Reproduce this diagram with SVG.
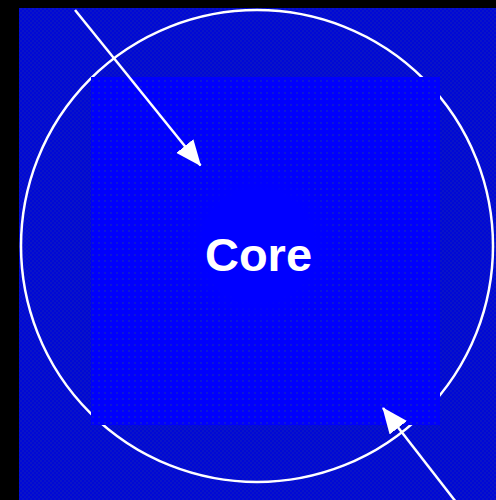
<svg xmlns="http://www.w3.org/2000/svg" width="496" height="500" viewBox="0 0 496 500">
<defs>
<style>
.conn{stroke:#fff;stroke-width:2.5;fill:none}
.ring{stroke:#fff;stroke-width:2.5;fill:none}
.lbl{font-family:"Liberation Sans",Arial,sans-serif;font-weight:bold;font-size:47px;fill:#fff}
</style>
<pattern id="dots" width="6" height="6" patternUnits="userSpaceOnUse">
<rect width="6" height="6" fill="#0000fc"/>
<circle cx="3" cy="3" r="1" fill="#1020c8"/>
</pattern>
<pattern id="dith" width="4" height="4" patternUnits="userSpaceOnUse">
<rect width="4" height="4" fill="#0008d6"/>
<rect width="2" height="2" fill="#0a14c8"/>
<rect x="2" y="2" width="2" height="2" fill="#0a14c8"/>
</pattern>
<radialGradient id="glow" cx="0.5" cy="0.5" r="0.5">
<stop offset="0" stop-color="#0000ff"/>
<stop offset="0.7" stop-color="#0000ff"/>
<stop offset="1" stop-color="#0000ff" stop-opacity="0"/>
</radialGradient>
<marker id="ah2" markerWidth="26" markerHeight="22" refX="25" refY="11" orient="auto" markerUnits="userSpaceOnUse">
<path d="M0,0 L26,11 L0,22 z" fill="#fff"/>
</marker>
</defs>
<rect width="496" height="500" fill="#000"/>
<rect x="19" y="8" width="477" height="492" fill="url(#dith)"/>
<g id="ring">
<circle class="ring" cx="257" cy="246" r="236"/>
</g>
<g id="square">
<rect x="91" y="77" width="349" height="348" fill="url(#dots)"/>
</g>
<g id="core">
<circle cx="258" cy="246" r="80" fill="url(#glow)"/>
<text class="lbl" x="258.5" y="271" text-anchor="middle">Core</text>
</g>
<g id="connectors">
<line class="conn" x1="75" y1="10" x2="200.5" y2="165.5" marker-end="url(#ah2)"/>
<line class="conn" x1="456" y1="502" x2="383" y2="408" marker-end="url(#ah2)"/>
</g>
</svg>
